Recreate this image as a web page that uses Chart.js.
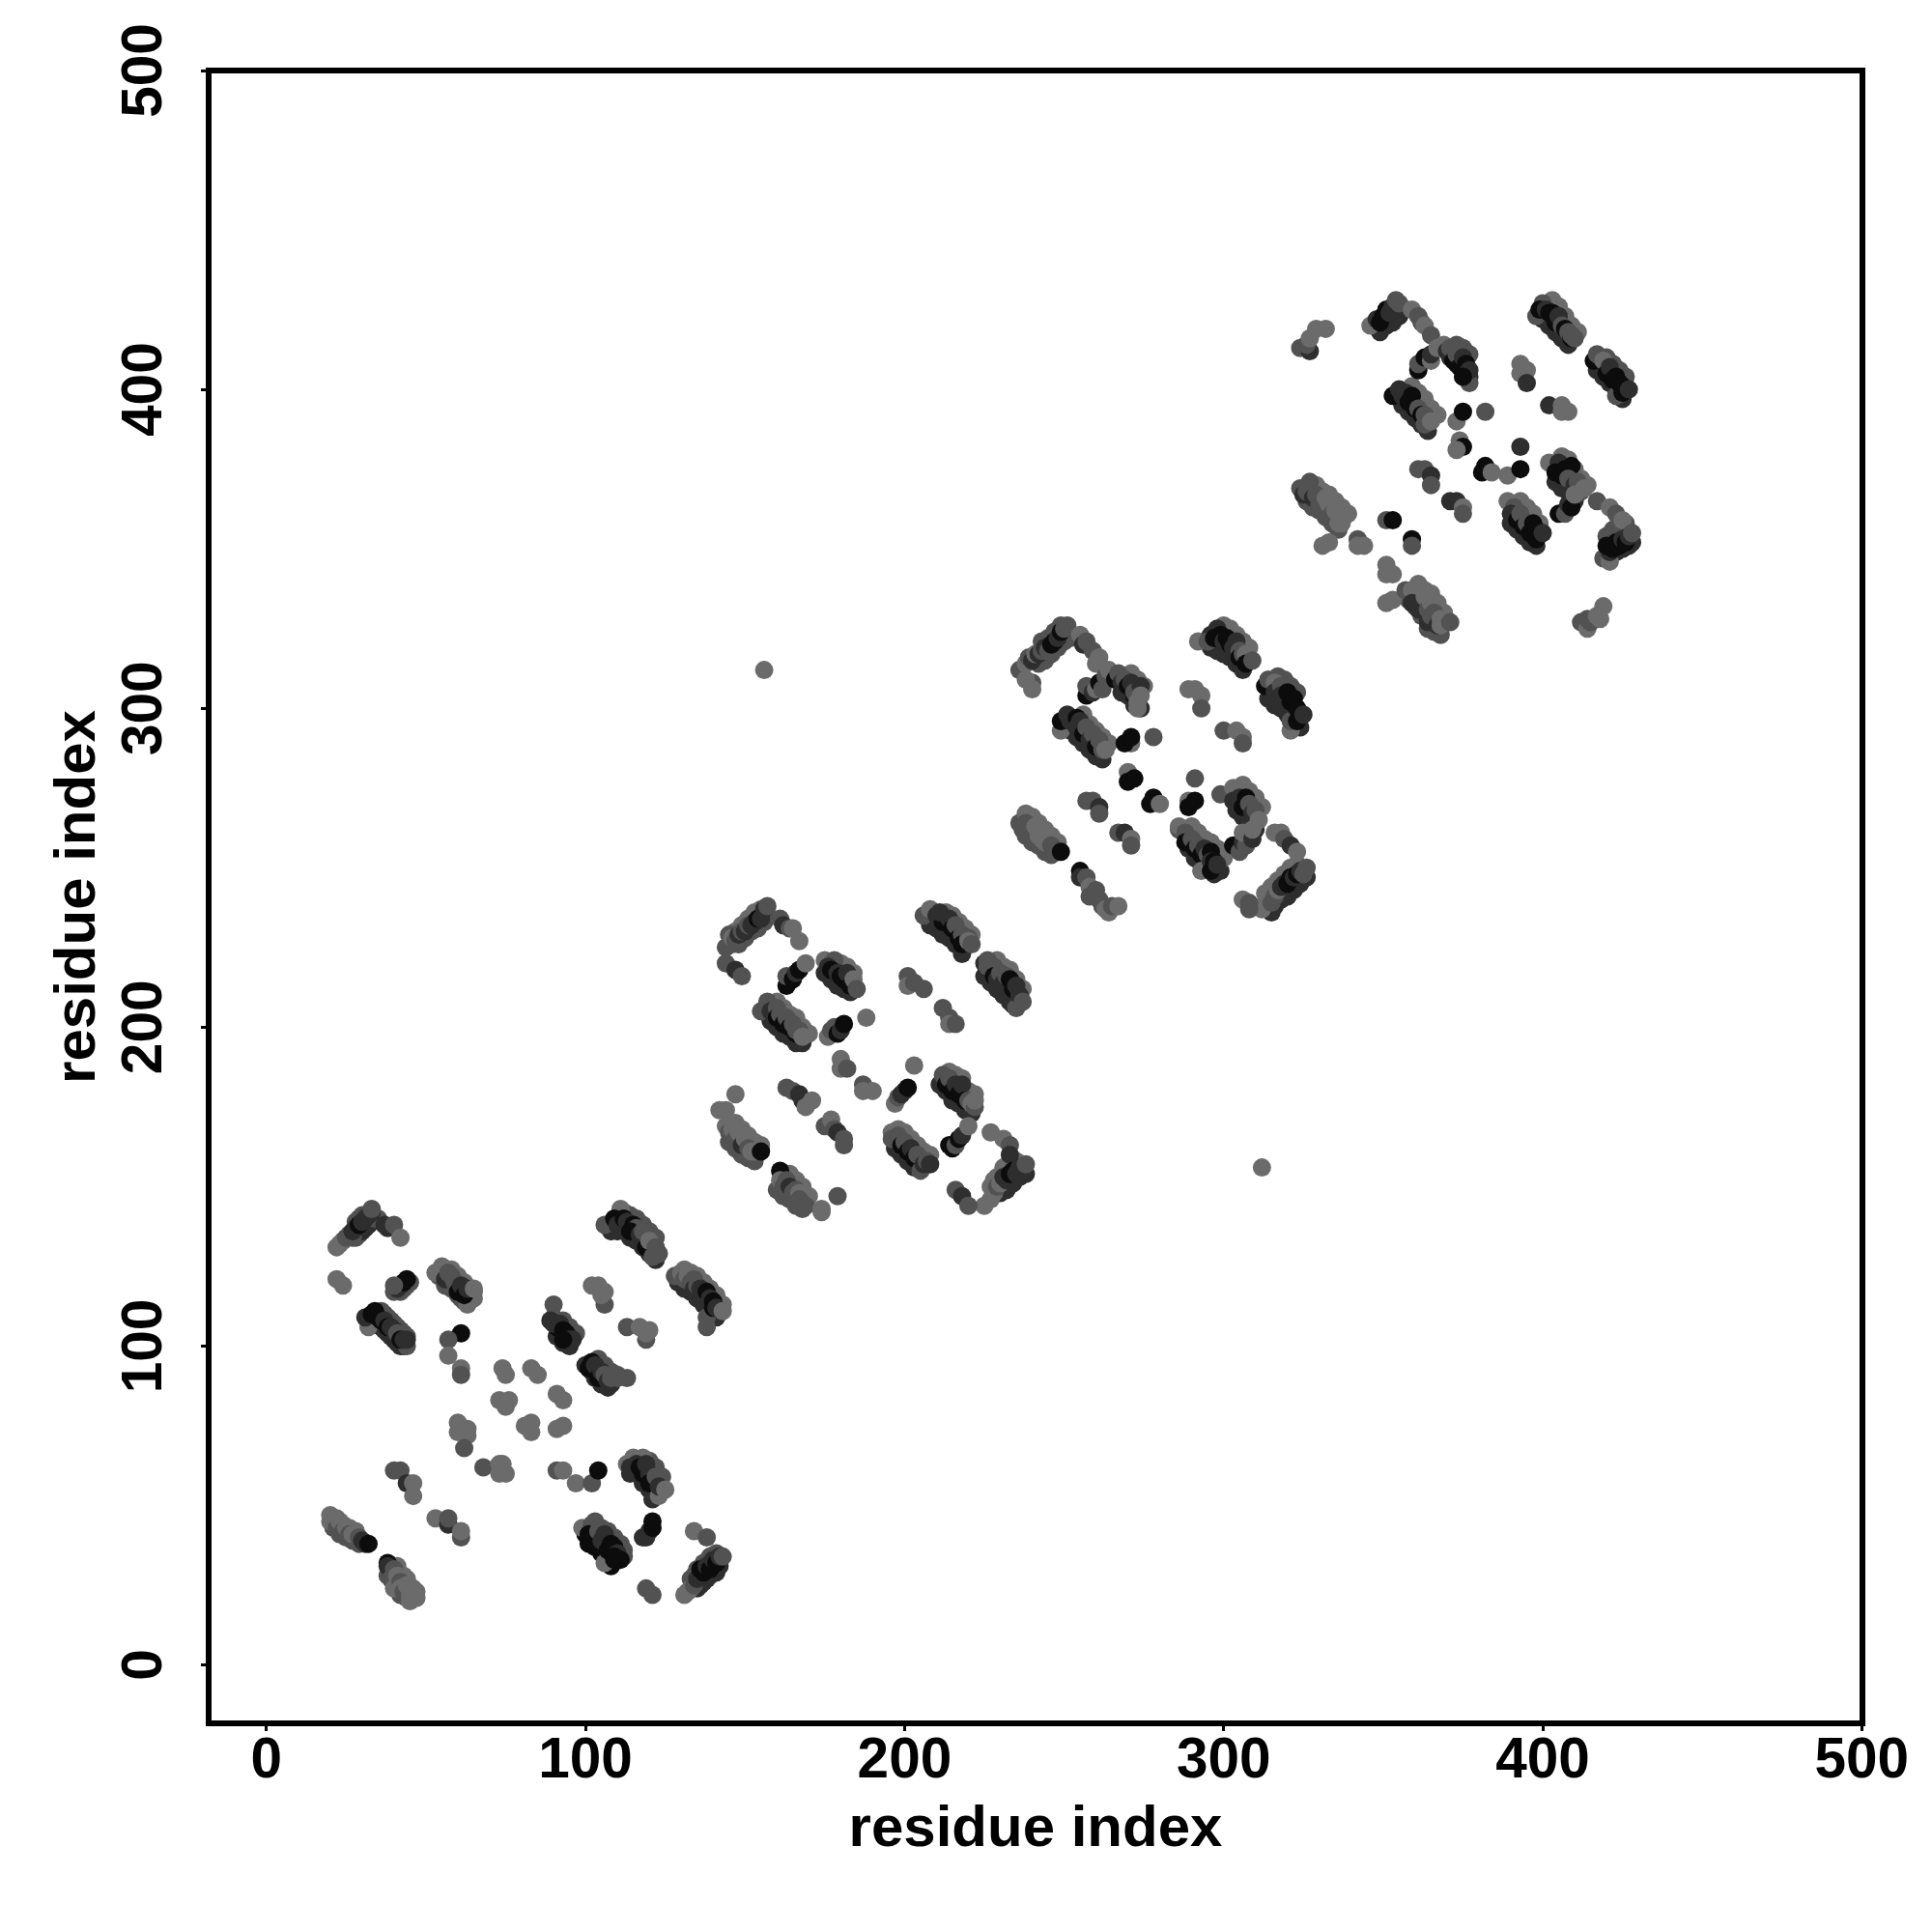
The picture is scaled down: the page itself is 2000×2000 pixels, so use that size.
<!DOCTYPE html>
<html>
<head>
<meta charset="utf-8">
<title>residue contact map</title>
<style>
html, body { margin: 0; padding: 0; background: #fff; }
canvas { display: block; }
</style>
<script src="https://cdn.jsdelivr.net/npm/chart.js@4/dist/chart.umd.min.js"></script>
</head>
<body>
<canvas id="contactMap" width="2000" height="2000"></canvas>
<script>
const xTicks = [0, 100, 200, 300, 400, 500];
const yTicks = [0, 100, 200, 300, 400, 500];
const axisLabel = 'residue index';

// one line per clump of contacts, strength 1 (weak) to 4 (strong)
// contacts sitting underneath the long strands, drawn first
const underX = [
  28,29,30,31,32,33,34,35,27,28,29,30,
  42,43,44,45,
  33,34,35,36,37,38,39,40,41,42,43,
  36,37,38,39,40,41,42,43,44,
  54,56,57,58,59,60,61,62,63,64,
  58,60,62,64,65,
  22,24,26,28,28,
  21,23,25,27,29,
  41,43,44,46,47,
  38,40,41,42,44,
  108,110,112,114,116,118,120,122,
  112,114,116,118,120,122,
  129,131,133,135,137,139,141,140,
  131,133,135,137,139,141,143,
  92,91,93,95,
  93,95,97,
  100,102,103,105,107,108,
  104,106,108,110,
  114,116,118,120,122,121,
  120,122,124,
  100,101,103,105,106,107,108,
  103,105,107,109,111,112,112,
  135,136,137,138,139,140,141,142,
  133,134,135,137,139,141,
  146,148,150,152,154,156,157,
  147,149,151,153,155,
  158,160,162,164,166,168,
  160,162,164,166,168,170,
  175,177,179,181,183,
  180,182,184,
  211,213,215,217,219,221,
  214,216,218,220,222,
  230,232,234,236,238,
  227,228,229,231,233,235,
  197,199,201,203,205,
  198,200,202,204,206,208,
  145,147,149,151,153,
  147,149,151,153,155,
  160,162,164,166,168,
  164,166,168,170,
  208,210,212,214,216,218,
  213,215,217,219,221,
  225,227,229,231,233,234,
  229,231,233,235,237,
  242,244,246,248,250,252,
  243,245,247,249,
  268,270,272,274,
  271,273,275,
  252,254,256,258,260,262,
  256,258,260,262,264,
  238,240,242,244,246,
  240,242,244,246,248,
  289,291,293,295,297,299,
  290,292,294,296,298,300,
  304,306,308,310,
  306,308,310,312,
  315,316,318,320,322,324,326,
  313,315,317,319,321,323,
  296,298,300,302,304,306,
  300,302,304,306,308,
  314,316,318,320,322,324,
  317,319,321,323,
  349,351,353,355,357,
  371,373,375,377,
  373,375,377,
  356,358,360,362,364,
  359,361,363,365,367,
  400,402,404,406,408,
  403,405,407,409,411,
  417,419,421,423,425,
  420,422,424,426,
  390,392,394,396,398,
  393,395,397,399,
  404,406,408,410,
  406,408,410,412,414,
  423,425,427,428,
  420,422,424,426,
  326,328,330,332,334,336,
  329,331,333,335,337,339,
  358,360,362,364,366,368,
  361,363,365,367,369
];
const underY = [
  134,135,136,137,138,139,140,140,134,139,140,141,
  117,118,119,120,
  107,108,107,106,105,104,103,102,101,100,100,
  111,110,109,108,107,106,105,104,103,
  122,119,120,118,118,116,115,114,115,116,
  124,122,120,118,117,
  46,44,43,42,41,
  43,41,40,39,38,
  31,28,27,24,23,
  28,26,24,22,21,
  136,136,136,134,133,131,129,127,
  142,141,140,138,136,134,
  120,118,117,115,113,111,109,110,
  124,123,122,120,118,116,113,
  104,103,101,100,
  108,106,104,
  94,92,90,88,87,88,
  96,94,92,91,
  60,60,57,55,53,52,
  64,62,59,
  41,38,37,35,35,33,31,
  45,43,42,40,38,36,34,
  24,25,26,27,28,29,29,31,
  27,28,30,32,34,35,
  226,226,228,230,231,233,235,
  230,232,234,236,237,
  202,200,198,197,195,195,
  208,206,204,203,200,198,
  217,215,213,212,211,
  220,219,217,
  182,180,177,176,174,173,
  186,185,184,180,179,
  148,149,151,153,154,
  150,152,153,156,158,158,
  162,160,158,156,158,
  168,167,165,163,161,160,
  164,162,160,159,158,
  170,168,166,164,163,
  149,147,146,144,143,
  154,152,150,147,
  232,231,229,228,226,223,
  236,235,233,231,229,
  216,214,212,210,208,207,
  221,219,218,215,212,
  314,315,317,319,321,322,
  321,322,324,326,
  305,304,301,300,
  311,309,307,
  293,291,289,287,285,284,
  298,295,293,291,289,
  260,258,257,255,254,
  266,264,262,260,258,
  256,253,251,250,248,249,
  263,261,259,258,256,253,
  268,266,264,262,
  276,274,272,269,
  236,238,240,241,243,245,247,
  242,244,246,248,250,251,
  319,318,317,316,314,312,
  326,325,323,321,319,
  303,301,300,298,295,294,
  310,309,307,305,
  418,420,421,423,425,
  410,408,406,404,
  414,413,411,
  395,393,391,389,387,
  401,399,397,394,392,
  422,420,418,416,414,
  428,426,423,420,418,
  406,404,402,400,397,
  410,408,406,404,
  358,356,354,352,351,
  365,363,361,358,
  371,369,368,365,
  379,378,375,372,370,
  349,350,351,352,
  354,356,357,358,
  365,363,362,360,358,356,
  370,368,367,365,363,361,
  334,332,329,325,324,323,
  339,337,336,333,330
];
const underLevel = [
  2,2,3,3,3,3,2,2,2,2,2,2,
  2,2,2,2,
  3,3,3,3,3,3,3,3,3,3,3,
  2,2,2,2,2,2,2,2,2,
  2,2,2,2,2,2,2,2,2,2,
  1,1,1,1,1,
  1,1,1,1,1,
  2,2,2,2,2,
  1,1,1,1,1,
  2,2,2,2,2,
  3,3,3,3,3,3,3,3,
  2,2,2,2,2,2,
  3,3,3,3,3,3,3,3,
  1,1,1,1,1,1,1,
  3,3,3,3,
  2,2,2,
  3,3,3,3,3,3,
  2,2,2,2,
  3,3,3,3,3,3,
  2,2,2,
  4,4,4,4,4,4,4,
  2,2,2,2,2,2,2,
  3,3,3,3,3,3,3,3,
  2,2,2,2,2,2,
  2,2,2,2,2,2,2,
  1,1,1,1,1,
  3,3,3,3,3,3,
  1,1,1,1,1,1,
  3,3,3,3,3,
  1,1,1,
  3,3,3,3,3,3,
  1,1,1,1,1,
  3,3,3,3,3,
  1,1,1,1,1,1,
  3,3,3,3,3,
  1,1,1,1,1,1,
  2,2,2,2,2,
  1,1,1,1,1,
  2,2,2,2,2,
  1,1,1,1,
  3,3,3,3,3,3,
  1,1,1,1,1,
  3,3,3,3,3,3,
  1,1,1,1,1,
  2,2,2,2,2,2,
  2,2,2,2,
  3,3,3,3,
  1,1,1,
  3,3,3,3,3,3,
  1,1,1,1,1,
  2,2,2,2,2,
  1,1,1,1,1,
  3,3,3,3,3,3,
  1,1,1,1,1,1,
  3,3,3,3,
  1,1,1,1,
  3,3,3,3,3,3,3,
  1,1,1,1,1,1,
  3,3,3,3,3,3,
  1,1,1,1,1,
  3,3,3,3,3,3,
  2,2,2,2,
  3,3,3,3,3,
  3,3,3,3,
  2,2,2,
  3,3,3,3,3,
  1,1,1,1,1,
  3,3,3,3,3,
  1,1,1,1,1,
  3,3,3,3,3,
  2,2,2,2,
  3,3,3,3,3,
  1,1,1,1,
  3,3,3,3,
  1,1,1,1,1,
  3,3,3,3,
  2,2,2,2,
  2,2,2,2,2,2,
  1,1,1,1,1,1,
  2,2,2,2,2,2,
  1,1,1,1,1
];

const block1X = [
  22,23,24,25,26,27,28,29,30,31,32,33,33,37,38,40,42,
  22,24,
  40,41,42,43,44,40,
  32,44,31,33,34,35,36,37,38,39,40,41,42,43,44,
  53,55,63,65,56,57,58,59,60,61,62,63,65,
  61,57,57,61,61,
  74,75,83,85,73,76,75,91,93,81,83,83,91,93,
  60,63,60,63,62,68,73,75,73,74,91,93,97,102,104,
  40,42,44,46,46,
  53,57,57,61,61,
  20,20,21,22,23,24,25,26,27,29,30,31,32,
  38,38,40,39,41,40,42,42,43,44,45,46,47,45,
  106,111,109,110,112,113,115,116,114,117,118,119,120,121,122,123,
  128,130,131,132,133,134,134,135,136,137,138,139,140,138,138,140,141,143,
  102,104,106,105,106,
  113,119,119,117,120,
  90,90,89,91,90,92,93,94,95,96,93,
  102,101,103,104,105,106,107,108,110,113,
  113,115,118,116,114,117,118,119,120,120,122,123,123,125,
  99,102,101,102,104,105,106,106,107,108,109,109,110,111,109,
  118,119,120,121,121,
  134,138,
  131,132,133,134,135,136,136,137,138,139,140,141,142,143,
  119,121
];
const block1Y = [
  131,132,133,134,135,136,137,138,139,140,141,142,143,138,137,138,134,
  121,119,
  117,118,119,120,121,119,
  106,100,109,110,111,109,108,108,106,106,105,104,102,102,102,
  123,125,113,115,121,123,122,120,117,119,116,118,118,
  104,102,97,93,91,
  93,91,93,91,83,83,81,85,83,75,76,73,74,75,
  76,74,73,72,68,62,63,60,60,63,61,61,57,57,61,
  61,61,57,57,53,
  46,44,46,40,42,
  47,45,46,43,45,42,43,41,41,40,39,38,38,
  32,31,30,27,28,24,26,24,23,25,22,21,21,20,
  138,143,140,138,140,139,138,137,136,135,136,131,133,128,131,129,
  122,123,121,122,120,121,118,119,118,116,117,115,114,106,109,112,112,111,
  119,119,113,116,117,
  106,102,104,106,105,
  113,109,108,106,107,107,105,104,102,102,102,
  95,93,94,90,92,91,89,90,90,90,
  63,65,65,63,62,62,60,63,60,57,59,53,56,55,
  43,44,41,39,42,39,41,32,36,38,37,33,35,33,34,
  40,40,42,43,45,
  42,40,
  22,23,24,25,27,28,30,29,31,30,33,32,34,34,
  24,22
];
const block1Level = [
  1,1,1,2,2,3,3,4,3,3,3,3,2,3,3,2,1,
  1,1,
  2,3,3,4,4,2,
  1,2,3,4,4,4,4,3,4,3,3,2,4,3,3,
  1,1,1,1,3,2,2,2,4,3,4,3,1,
  4,2,1,1,2,
  1,1,1,1,1,1,1,1,1,1,1,1,1,1,
  1,1,1,1,2,2,1,1,1,1,2,1,1,2,4,
  2,2,3,1,1,
  1,3,2,2,1,
  1,1,1,2,1,2,1,2,1,2,3,3,4,
  4,3,2,2,1,1,2,1,2,1,1,1,1,1,
  2,1,4,3,4,3,4,2,4,3,2,4,1,2,2,2,
  2,1,2,1,2,2,3,2,3,3,4,3,4,2,2,4,3,1,
  1,1,2,1,1,
  2,2,1,1,1,
  2,2,3,4,3,3,4,4,3,3,4,
  4,4,3,4,3,2,3,2,2,2,
  1,1,1,3,3,4,4,3,3,4,2,1,3,1,
  1,2,4,4,2,3,3,1,4,4,4,4,3,4,4,
  3,3,3,4,4,
  1,2,
  1,1,1,2,3,3,4,4,3,4,3,4,3,2,
  2,2
];

const block2X = [
  144,144,147,149,145,146,147,148,149,150,151,152,153,154,155,156,157,
  161,162,164,165,167,
  163,163,165,166,167,169,
  175,178,176,177,179,180,181,182,183,184,185,
  155,157,158,160,160,161,162,163,164,165,166,166,167,168,
  176,177,178,179,180,181,
  188,
  180,180,182,
  187,187,190,
  203,
  197,198,199,200,201,
  212,213,214,215,216,217,218,219,220,221,222,222,
  214,215,216,217,218,220,
  227,231,233,233,
  225,227,228,229,230,231,232,233,234,235,236,237,238,
  216,218,220,
  196,196,198,199,200,201,202,203,204,205,206,207,208,
  147,142,144,
  144,145,146,147,148,149,150,151,152,153,155,
  161,161,162,163,164,165,166,167,167,169,
  174,174,179,
  163,165,167,168,169,171,
  175,177,178,179,181,181,
  206,208,210,212,211,214,215,216,217,218,218,220,220,221,
  225,226,226,228,228,229,230,231,232,233,234,235,235,236,237,
  201,201,203,206,
  212,214,214,216
];
const block2Y = [
  225,220,218,216,229,228,227,229,230,230,232,232,233,234,234,237,238,
  234,232,231,231,227,
  213,216,215,217,218,220,
  221,221,219,218,217,216,215,217,213,215,212,
  205,208,205,206,203,204,201,203,200,201,198,199,199,197,
  197,199,200,198,199,201,
  203,
  190,187,187,
  182,180,180,
  188,
  176,178,179,180,181,
  185,182,184,180,182,179,182,177,177,176,175,177,
  163,162,163,165,166,169,
  167,165,163,160,
  144,146,148,150,151,153,152,154,155,154,156,155,157,
  149,147,144,
  167,165,166,163,164,161,162,159,160,155,157,158,157,
  179,174,174,
  169,167,168,165,167,163,165,162,161,161,161,
  155,152,150,152,150,148,149,148,146,144,
  143,142,147,
  181,180,179,177,175,177,
  169,171,168,167,165,163,
  235,237,235,233,236,234,231,232,228,229,226,228,227,226,
  220,219,221,219,216,215,217,214,216,215,212,206,213,210,208,
  216,213,214,212,
  206,203,201,201
];
const block2Level = [
  2,2,3,2,2,1,2,3,2,3,2,3,3,4,3,3,2,
  2,3,2,1,1,
  4,2,4,3,4,1,
  1,2,3,4,3,4,4,3,4,1,2,
  2,2,3,2,4,2,4,2,4,2,4,2,2,1,
  1,2,2,4,3,4,
  1,
  1,1,2,
  2,1,1,
  1,
  1,2,3,3,4,
  2,4,2,4,3,4,3,4,2,1,2,1,
  4,4,2,4,3,1,
  1,1,2,3,
  1,1,1,2,1,3,3,4,4,3,3,3,2,
  2,3,2,
  1,2,2,4,2,4,3,4,2,2,3,2,3,
  1,1,1,
  1,2,1,2,1,3,1,2,1,1,4,
  4,1,2,2,3,2,2,1,2,2,
  1,1,2,
  2,2,3,3,1,1,
  2,1,2,3,2,2,
  2,1,3,4,3,3,4,2,4,2,4,2,1,2,
  3,2,2,2,4,3,2,3,2,4,4,2,3,3,2,
  2,1,2,2,
  2,2,1,2
];

const block3X = [
  236,238,240,240,238,239,240,241,242,243,244,245,246,247,248,249,250,251,
  255,256,257,259,261,260,
  257,257,259,260,261,262,263,264,266,
  266,267,268,269,270,271,272,272,273,274,274,273,
  249,249,251,252,254,254,255,256,257,258,259,260,261,262,263,
  271,269,271,
  278,
  270,270,272,
  278,277,280,
  291,
  289,289,291,
  257,259,261,261,
  267,269,271,271,
  236,238,237,238,239,240,241,242,243,244,246,247,249,
  255,255,257,258,258,260,261,262,263,264,265,267,
  286,286,288,288,290,291,292,293,293,294,295,296,296,296,297,298,
  299,303,306,303,305,307,306,308,309,310,311,
  303,305,306,307,306,309,309,
  316,318,319,321,323,
  312,313,315,316,317,318,319,320,321,322,323,324,325,326,
  306,308,308,
  292,296,295,298,297,299,300,301,302,303,304,305,305,306,307,307,309,
  313,314,316,316,318,318,320,320,321,321,321,322,323,323,325,
  289,291,293,293,
  300,304,306,306
];
const block3Y = [
  312,314,308,306,309,316,315,317,317,318,319,318,320,321,322,324,325,326,
  323,320,321,318,316,314,
  304,307,305,306,308,306,310,312,310,
  309,311,308,309,307,308,304,305,300,307,304,302,
  293,296,298,296,297,294,296,292,294,290,292,288,290,287,287,
  289,289,291,
  291,
  280,277,278,
  272,270,270,
  278,
  271,269,271,
  271,271,269,267,
  261,261,259,257,
  264,267,262,264,262,260,263,260,259,258,257,255,255,
  249,247,247,244,241,243,240,238,237,236,238,238,
  262,263,261,258,259,256,257,254,249,256,254,255,252,249,252,251,
  273,275,275,271,272,272,269,270,267,268,265,
  257,255,258,257,261,259,262,
  261,261,259,257,255,
  237,239,239,241,243,244,245,245,247,247,248,249,248,250,
  240,239,237,
  321,323,321,325,322,323,321,322,320,319,321,318,316,317,317,314,315,
  307,309,308,305,307,304,302,305,293,296,302,303,300,296,298,
  306,306,304,300,
  293,293,291,289
];
const block3Level = [
  2,1,2,1,1,2,3,1,3,2,3,2,4,4,3,4,2,2,
  1,3,2,2,1,1,
  4,2,3,1,4,2,2,1,1,
  4,2,3,2,4,3,4,2,1,3,1,1,
  1,4,3,3,4,3,3,4,2,3,2,4,2,2,1,
  1,4,4,
  2,
  1,4,4,
  4,4,1,
  2,
  1,4,4,
  2,2,3,2,
  2,3,1,2,
  2,1,2,2,2,2,1,1,1,1,2,2,4,
  4,3,2,1,2,2,2,2,1,1,2,1,
  2,1,2,4,2,4,2,4,1,3,2,4,3,4,4,3,
  2,1,1,3,3,4,4,2,3,2,1,
  4,2,3,2,1,3,1,
  1,1,2,3,1,
  1,1,2,2,1,3,3,4,4,3,4,3,2,2,
  1,2,2,
  1,3,2,3,4,4,3,4,4,3,3,2,4,2,1,4,2,
  4,2,1,3,2,3,3,4,1,2,4,4,4,4,3,
  1,1,1,2,
  2,1,1,2
];

const block4X = [
  324,327,326,327,329,332,
  346,348,349,350,351,352,353,354,355,
  359,361,362,363,365,
  361,361,363,365,365,367,
  369,370,371,372,373,374,375,376,377,377,375,
  353,355,356,357,358,359,360,361,362,363,363,365,
  373,375,
  382,
  374,375,373,
  393,
  382,381,384,389,393,
  361,363,365,365,
  371,373,375,375,
  402,406,408,406,
  393,395,393,395,
  398,400,399,401,402,403,404,405,406,407,408,409,409,410,
  416,417,419,420,421,422,423,423,424,425,425,427,
  389,391,390,392,393,394,395,396,397,398,398,400,
  402,405,404,406,407,409,408,410,411,412,413,
  405,407,408,409,410,
  417,421,423,425,
  419,421,421,420,422,423,424,425,426,427,428,
  412,414,415,414,417,419,418,
  324,327,325,326,328,329,330,331,332,333,334,335,336,337,337,
  333,331,342,344,342,
  351,353,359,359,
  351,353,351,
  351,353,
  357,359,361,359,361,363,364,364,365,365,366,367,368,368,371
];
const block4Y = [
  413,412,414,416,419,419,
  420,422,421,423,425,424,426,428,427,
  425,423,421,420,417,
  406,408,410,409,411,413,
  414,412,413,409,411,407,410,408,402,406,404,
  398,400,398,399,396,398,394,394,392,392,389,390,
  390,393,
  393,
  384,382,381,
  382,
  376,374,374,373,375,
  375,375,373,370,
  365,365,363,361,
  395,395,393,393,
  408,406,405,402,
  423,427,425,425,424,424,421,423,420,419,418,416,417,416,
  409,411,409,405,407,403,404,398,402,399,401,400,
  365,363,361,359,361,357,358,355,358,356,353,355,
  377,377,374,373,375,376,372,370,371,368,369,
  361,361,364,363,367,
  365,363,361,359,
  347,346,349,351,350,352,351,353,352,354,355,
  327,325,327,328,329,332,328,
  369,371,367,368,366,367,364,365,366,364,361,362,358,360,358,
  352,351,353,351,351,
  359,359,353,351,
  345,342,342,
  333,334,
  337,337,336,333,331,335,331,327,333,329,330,326,328,326,327
];
const block4Level = [
  2,3,2,1,1,1,
  1,3,4,4,4,3,3,2,2,
  1,2,2,1,2,
  4,2,4,1,3,1,
  1,3,2,4,2,4,3,4,2,3,4,
  4,3,3,3,4,4,4,2,4,2,2,1,
  1,4,
  2,
  1,4,1,
  3,
  4,4,1,1,4,
  2,2,3,2,
  3,3,1,2,
  3,1,1,1,
  1,1,1,3,
  2,2,4,3,4,4,4,3,2,4,2,4,2,2,
  4,2,1,4,3,4,4,2,4,4,4,3,
  1,2,3,4,2,4,2,4,4,4,4,3,
  1,3,4,4,4,4,2,3,2,2,1,
  4,2,3,4,1,
  2,1,2,1,
  2,1,3,4,4,4,4,3,4,3,2,
  2,1,2,2,1,1,1,
  2,2,3,2,3,2,2,2,1,1,2,1,1,1,1,
  1,1,2,1,1,
  2,4,4,2,
  1,1,1,
  1,1,
  2,1,1,3,3,1,2,3,1,2,2,3,1,1,2
];

const strayX = [156, 312];
const strayY = [312, 156];
const strayLevel = [1, 1];

const xs = [...underX, ...block1X, ...block2X, ...block3X, ...block4X, ...strayX];
const ys = [...underY, ...block1Y, ...block2Y, ...block3Y, ...block4Y, ...strayY];
const levels = [...underLevel, ...block1Level, ...block2Level, ...block3Level, ...block4Level, ...strayLevel];

const levelColors = { 1: '#6b6b6b', 2: '#525252', 3: '#2e2e2e', 4: '#0c0c0c' };
const fontFamily = '"Liberation Sans", Arial, sans-serif';
const tickFont = { family: fontFamily, size: 58.5, weight: 'bold' };
const titleFont = { family: fontFamily, size: 60, weight: 'bold' };

// y tick labels are rotated, which chart.js does not do on a vertical axis, and the box is closed here too
const frameAndLabels = {
  id: 'frameAndLabels',
  afterDraw(chart) {
    const { ctx, chartArea, scales } = chart;
    ctx.save();
    ctx.strokeStyle = '#000';
    ctx.lineWidth = 6;
    ctx.strokeRect(chartArea.left, chartArea.top, chartArea.right - chartArea.left, chartArea.bottom - chartArea.top);
    ctx.fillStyle = '#000';
    ctx.font = 'bold 58.5px ' + fontFamily;
    ctx.textAlign = 'center';
    ctx.textBaseline = 'middle';
    yTicks.forEach(tick => {
      ctx.save();
      ctx.translate(151, scales.y.getPixelForValue(tick));
      ctx.rotate(-Math.PI / 2);
      ctx.fillText(String(tick), 0, 0);
      ctx.restore();
    });
    ctx.restore();
  }
};

new Chart(document.getElementById('contactMap').getContext('2d'), {
  type: 'scatter',
  data: {
    datasets: [{
      data: xs.map((x, i) => ({ x: x, y: ys[i] })),
      backgroundColor: levels.map(level => levelColors[level]),
      pointRadius: 9.5,
      pointBorderWidth: 0
    }]
  },
  options: {
    responsive: false,
    animation: false,
    layout: { padding: { top: 73, right: 72 } },
    plugins: { legend: { display: false }, tooltip: { enabled: false } },
    scales: {
      x: {
        type: 'linear',
        min: -18.1,
        max: 500.2,
        afterFit: scale => { scale.height = 216; },
        afterBuildTicks: scale => { scale.ticks = xTicks.map(value => ({ value: value })); },
        grid: { drawOnChartArea: false, tickLength: 8, tickWidth: 3, tickColor: '#000' },
        border: { display: false },
        ticks: { color: '#000', font: tickFont, padding: -3, maxRotation: 0, autoSkip: false },
        title: { display: true, text: axisLabel, color: '#000', font: titleFont, padding: { bottom: 70 } }
      },
      y: {
        type: 'linear',
        min: -18.3,
        max: 500,
        afterFit: scale => { scale.width = 216; },
        afterBuildTicks: scale => { scale.ticks = yTicks.map(value => ({ value: value })); },
        grid: { drawOnChartArea: false, tickLength: 8, tickWidth: 3, tickColor: '#000' },
        border: { display: false },
        ticks: { display: false },
        title: { display: true, text: axisLabel, color: '#000', font: titleFont, padding: { top: 45 } }
      }
    }
  },
  plugins: [frameAndLabels]
});
</script>
</body>
</html>
